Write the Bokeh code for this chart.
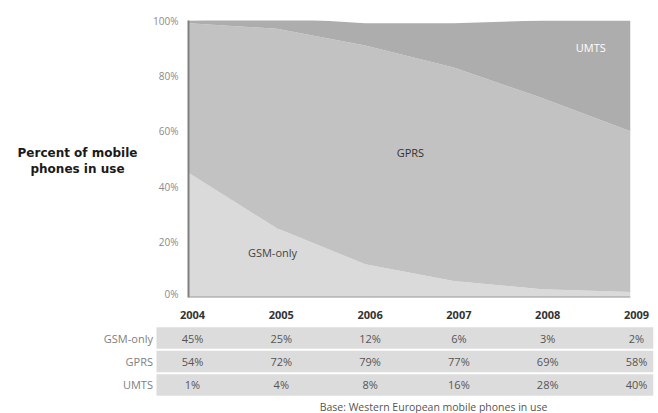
from bokeh.plotting import figure
from bokeh.layouts import column, row
from bokeh.models import Range1d, FixedTicker, PrintfTickFormatter, Span, ColumnDataSource
from bokeh.core.properties import value
from bokeh.embed import file_html
from bokeh.resources import INLINE

years = [2004, 2005, 2006, 2007, 2008, 2009]
gsm_only = [45, 25, 12, 6, 3, 2]
gprs = [54, 72, 79, 77, 69, 58]
umts = [1, 4, 8, 16, 28, 40]
series_names = ["GSM-only", "GPRS", "UMTS"]
y_ticks = [0, 20, 40, 60, 80, 100]
base_note = "Base: Western European mobile phones in use"
y_title_lines = ["Percent of mobile", "phones in use"]

FONT = "Open Sans"
c_gsm, c_gprs, c_umts = "#dadada", "#c2c2c2", "#adadad"

# cumulative stacks
s1 = gsm_only
s2 = [a + b for a, b in zip(gsm_only, gprs)]
s3 = [a + b + c for a, b, c in zip(gsm_only, gprs, umts)]

W = 658
TOP_H = 300
LEFT_W = 150

# ---- left title panel ----
lt = figure(width=LEFT_W, height=TOP_H, output_backend="svg", toolbar_location=None,
            x_range=Range1d(0, LEFT_W), y_range=Range1d(TOP_H, 0),
            min_border=0)
lt.frame_align = False
lt.axis.visible = False
lt.grid.visible = False
lt.outline_line_color = None
lt.text(x=[77, 77], y=[152, 168], text=y_title_lines, text_align="center", text_baseline="middle",
        text_font=value("DejaVu Sans"), text_font_style="bold", text_font_size="12px",
        text_color="#1a1a1a")

# ---- area chart ----
p = figure(width=W - LEFT_W, height=TOP_H, output_backend="svg", toolbar_location=None,
           x_range=Range1d(2004, 2009), y_range=Range1d(0, 100),
           min_border_left=38, min_border_right=28, min_border_top=20, min_border_bottom=3)
p.frame_align = False
p.xaxis.visible = False
p.grid.visible = False
p.outline_line_color = None
p.background_fill_color = "white"

src = ColumnDataSource(dict(x=years, zero=[0] * 6, s1=s1, s2=s2, s3=s3))
p.varea(x="x", y1="zero", y2="s1", source=src, fill_color=c_gsm)
p.varea(x="x", y1="s1", y2="s2", source=src, fill_color=c_gprs)
p.varea(x="x", y1="s2", y2="s3", source=src, fill_color=c_umts)

yax = p.yaxis[0]
yax.ticker = FixedTicker(ticks=y_ticks)
yax.formatter = PrintfTickFormatter(format="%d%%")
yax.major_tick_line_color = None
yax.minor_tick_line_color = None
yax.axis_line_color = "#808080"
yax.axis_line_width = 2
yax.major_label_text_font = FONT
yax.major_label_text_font_size = "10px"
yax.major_label_text_color = "#8a8a8a"
yax.major_label_standoff = 4

p.add_layout(Span(location=0, dimension="width", line_color="#9a9a9a", line_width=2))

p.text(x=[2008.55, 2006.51, 2004.95], y=[90.3, 52.3, 16.2],
       text=[series_names[2], series_names[1], series_names[0]],
       text_color=["#ffffff", "#333333", "#444444"], text_align="center",
       text_baseline="middle", text_font=value(FONT), text_font_size="11px")

# ---- table ----
px_per_year = 88.8
x_left = 2004 - 192 / px_per_year
x_right = 2009 + 17 / px_per_year
t = figure(width=W, height=413 - TOP_H, output_backend="svg", toolbar_location=None,
           x_range=Range1d(x_left, x_right), y_range=Range1d(4.213, -0.596),
           min_border_left=0, min_border_right=5, min_border_top=0, min_border_bottom=0)
t.frame_align = False
t.axis.visible = False
t.grid.visible = False
t.outline_line_color = None

table_start = 2004 - 36 / px_per_year
rows = [1, 2, 3]
t.hbar(y=rows, left=table_start, right=x_right, height=0.92, fill_color="#dcdcdc", line_color=None)

t.text(x=years, y=[0] * 6, text=[str(y) for y in years], text_align="center", text_baseline="middle",
       text_font=value(FONT), text_font_style="bold", text_font_size="11px", text_color="#333333")
t.text(x=[table_start - 0.04] * 3, y=rows, text=series_names, text_align="right", text_baseline="middle",
       text_font=value(FONT), text_font_size="11px", text_color="#808080")
for r, vals in zip(rows, [gsm_only, gprs, umts]):
    t.text(x=years, y=[r] * 6, text=[f"{v}%" for v in vals], text_align="center", text_baseline="middle",
           text_font=value(FONT), text_font_size="11px", text_color="#555555")
t.text(x=[2004 + (433 - 192) / px_per_year], y=[3.93], text=[base_note], text_align="center",
       text_baseline="middle", text_font=value(FONT), text_font_size="10.5px", text_color="#555555")

layout = column(row(lt, p, spacing=0), t, spacing=0)
open("out.html", "w").write(file_html(layout, INLINE))
